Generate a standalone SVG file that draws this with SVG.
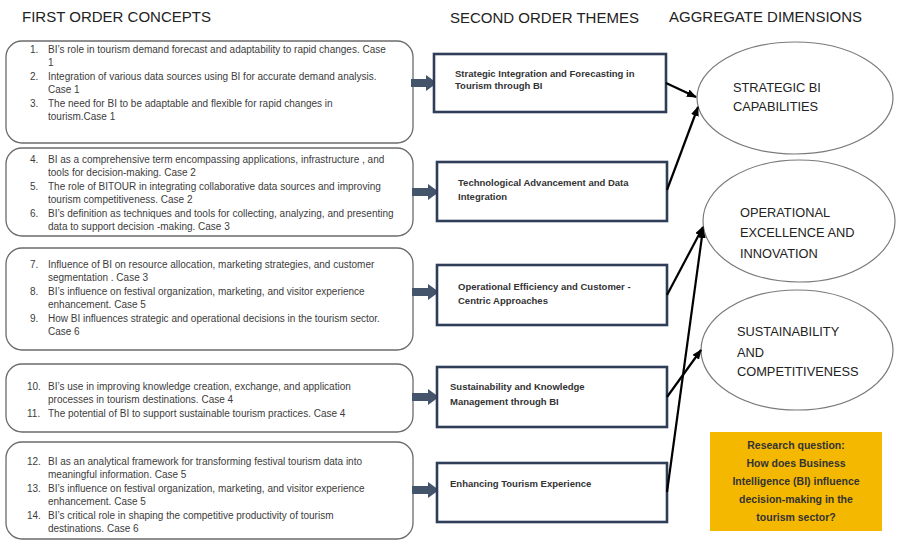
<svg xmlns="http://www.w3.org/2000/svg" width="897" height="541" viewBox="0 0 897 541">
<style>
.hdr{font-family:"Liberation Sans",Arial,sans-serif;font-size:15px;fill:#222}
.fo{font-family:"Liberation Sans",Arial,sans-serif;font-size:10px;fill:#3c3c3c}
.lbox{fill:#fff;stroke:#6b6b6b;stroke-width:1.3}
.tbox{fill:#fff;stroke:#2f3d58;stroke-width:2.6}
.tt{font-family:"Liberation Sans",Arial,sans-serif;font-size:9.5px;font-weight:bold;fill:#333}
.ell{fill:#fff;stroke:#7a7a7a;stroke-width:1.2}
.et{font-family:"Liberation Sans",Arial,sans-serif;font-size:12.8px;fill:#222}
.blk{fill:#44546a}
.con{stroke:#000;stroke-width:2.2;fill:none;marker-end:url(#ah)}
.rq{font-family:"Liberation Sans",Arial,sans-serif;font-size:10.5px;font-weight:bold;fill:#333;text-anchor:middle}
</style>
<defs>
<marker id="ah" markerWidth="10" markerHeight="8" refX="9" refY="4" orient="auto" markerUnits="userSpaceOnUse">
<path d="M0,0 L10,4 L0,8 Z" fill="#000"/>
</marker>
</defs>
<rect width="897" height="541" fill="#fff"/>
<g id="headers">
<text class="hdr" x="22" y="22">FIRST ORDER CONCEPTS</text>
<text class="hdr" x="450" y="23">SECOND ORDER THEMES</text>
<text class="hdr" x="669" y="22">AGGREGATE DIMENSIONS</text>
</g>
<g id="concepts-1">
<rect class="lbox" x="6" y="41" width="407" height="102" rx="16"/>
<text class="fo" x="30" y="53">1.</text><text class="fo" x="48" y="53">BI’s role in tourism demand  forecast and adaptability to rapid changes. Case</text>
<text class="fo" x="48" y="66">1</text>
<text class="fo" x="30" y="80">2.</text><text class="fo" x="48" y="80">Integration of various data sources using BI for accurate demand analysis.</text>
<text class="fo" x="48" y="93">Case 1</text>
<text class="fo" x="30" y="107">3.</text><text class="fo" x="48" y="107">The need for BI to be adaptable and flexible for rapid changes in</text>
<text class="fo" x="48" y="120">tourism.Case 1</text>
</g>
<g id="concepts-2">
<rect class="lbox" x="6" y="148" width="407" height="88" rx="16"/>
<text class="fo" x="30" y="163">4.</text><text class="fo" x="48" y="163">BI as a comprehensive  term encompassing applications, infrastructure , and</text>
<text class="fo" x="48" y="176">tools for decision-making. Case 2</text>
<text class="fo" x="30" y="190">5.</text><text class="fo" x="48" y="190">The role of BITOUR in integrating collaborative data sources and improving</text>
<text class="fo" x="48" y="203">tourism competitiveness. Case 2</text>
<text class="fo" x="30" y="217">6.</text><text class="fo" x="48" y="217">BI’s definition as techniques and tools for collecting, analyzing, and presenting</text>
<text class="fo" x="48" y="230">data to support decision -making. Case 3</text>
</g>
<g id="concepts-3">
<rect class="lbox" x="6" y="248" width="407" height="102" rx="16"/>
<text class="fo" x="30" y="268">7.</text><text class="fo" x="48" y="268">Influence of BI on resource allocation, marketing  strategies, and customer</text>
<text class="fo" x="48" y="281">segmentation . Case 3</text>
<text class="fo" x="30" y="295">8.</text><text class="fo" x="48" y="295">BI’s influence on festival organization, marketing, and visitor experience</text>
<text class="fo" x="48" y="308">enhancement. Case 5</text>
<text class="fo" x="30" y="322">9.</text><text class="fo" x="48" y="322">How BI influences strategic and operational decisions in the tourism sector.</text>
<text class="fo" x="48" y="335">Case 6</text>
</g>
<g id="concepts-4">
<rect class="lbox" x="6" y="364" width="407" height="68" rx="16"/>
<text class="fo" x="27" y="390">10.</text><text class="fo" x="48" y="390">BI’s use in improving knowledge creation, exchange, and application</text>
<text class="fo" x="48" y="403">processes in tourism destinations. Case 4</text>
<text class="fo" x="27" y="417">11.</text><text class="fo" x="48" y="417">The potential of BI to support sustainable tourism practices. Case 4</text>
</g>
<g id="concepts-5">
<rect class="lbox" x="6" y="442" width="407" height="97" rx="16"/>
<text class="fo" x="27" y="465">12.</text><text class="fo" x="48" y="465">BI as an analytical framework for transforming festival tourism data into</text>
<text class="fo" x="48" y="478">meaningful information. Case 5</text>
<text class="fo" x="27" y="492">13.</text><text class="fo" x="48" y="492">BI’s influence on festival organization, marketing, and visitor experience</text>
<text class="fo" x="48" y="505">enhancement. Case 5</text>
<text class="fo" x="27" y="519">14.</text><text class="fo" x="48" y="519">BI’s critical role in shaping the competitive productivity of tourism</text>
<text class="fo" x="48" y="532">destinations. Case 6</text>
</g>
<g id="block-arrows">
<path class="blk" d="M411,79 H426 V75 L437,83 L426,91 V87 H411 Z"/>
<path class="blk" d="M412,188 H428 V184 L439,192 L428,200 V196 H412 Z"/>
<path class="blk" d="M412,288 H428 V284 L439,292 L428,300 V296 H412 Z"/>
<path class="blk" d="M412,393 H428 V389 L439,397 L428,405 V401 H412 Z"/>
<path class="blk" d="M412,486 H428 V482 L439,490 L428,498 V494 H412 Z"/>
</g>
<g id="theme-1">
<rect class="tbox" x="434" y="54" width="232" height="58"/>
<text class="tt" x="455" y="77">Strategic Integration and Forecasting in</text>
<text class="tt" x="455" y="89">Tourism  through BI</text>
</g>
<g id="theme-2">
<rect class="tbox" x="437" y="162" width="230" height="59"/>
<text class="tt" x="458" y="186">Technological Advancement and Data</text>
<text class="tt" x="458" y="200">Integration</text>
</g>
<g id="theme-3">
<rect class="tbox" x="437" y="265" width="230" height="60"/>
<text class="tt" x="458" y="290">Operational Efficiency and Customer -</text>
<text class="tt" x="458" y="304">Centric Approaches</text>
</g>
<g id="theme-4">
<rect class="tbox" x="437" y="367" width="230" height="60"/>
<text class="tt" x="450" y="390">Sustainability and Knowledge</text>
<text class="tt" x="450" y="405">Management through BI</text>
</g>
<g id="theme-5">
<rect class="tbox" x="437" y="463" width="230" height="59"/>
<text class="tt" x="450" y="487">Enhancing Tourism Experience</text>
</g>
<g id="dim-1">
<ellipse class="ell" cx="795" cy="98" rx="98" ry="56"/>
<text class="et" x="733" y="92">STRATEGIC BI</text>
<text class="et" x="733" y="111">CAPABILITIES</text>
</g>
<g id="dim-2">
<ellipse class="ell" cx="799" cy="221" rx="96" ry="61"/>
<text class="et" x="740" y="217">OPERATIONAL</text>
<text class="et" x="740" y="237">EXCELLENCE AND</text>
<text class="et" x="740" y="258">INNOVATION</text>
</g>
<g id="dim-3">
<ellipse class="ell" cx="797" cy="350" rx="96" ry="60"/>
<text class="et" x="737" y="336">SUSTAINABILITY</text>
<text class="et" x="737" y="357">AND</text>
<text class="et" x="737" y="376">COMPETITIVENESS</text>
</g>
<g id="research-question">
<rect x="710" y="432" width="172" height="99" fill="#f5b800"/>
<text class="rq" x="796" y="449">Research question:</text>
<text class="rq" x="796" y="467">How does Business</text>
<text class="rq" x="796" y="485">Intelligence (BI) influence</text>
<text class="rq" x="796" y="503">decision-making in the</text>
<text class="rq" x="796" y="521">tourism sector?</text>
</g>
<g id="connectors">
<line class="con" x1="666" y1="83" x2="696" y2="97"/>
<line class="con" x1="667" y1="190" x2="698" y2="107"/>
<line class="con" x1="667" y1="295" x2="703" y2="227"/>
<line class="con" x1="667" y1="397" x2="701" y2="350"/>
<line class="con" x1="667" y1="492" x2="703" y2="229"/>
</g>
</svg>
